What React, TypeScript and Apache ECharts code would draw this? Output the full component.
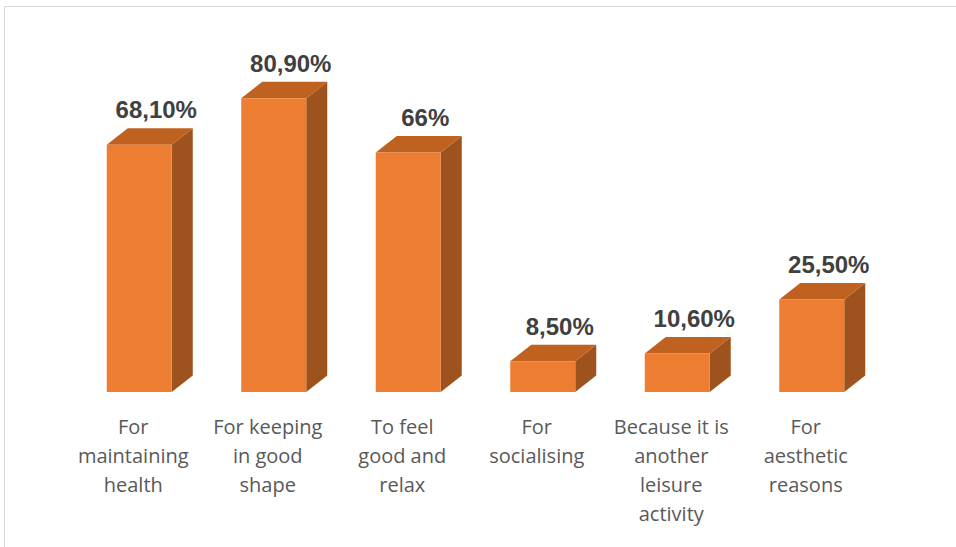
import React, { useEffect, useRef } from "react";
import * as echarts from "echarts";

const categories = [
  "For\nmaintaining\nhealth",
  "For keeping\nin good\nshape",
  "To feel\ngood and\nrelax",
  "For\nsocialising",
  "Because it is\nanother\nleisure\nactivity",
  "For\naesthetic\nreasons",
];
const values = [68.1, 80.9, 66, 8.5, 10.6, 25.5];
const valueLabels = ["68,10%", "80,90%", "66%", "8,50%", "10,60%", "25,50%"];

export default function App() {
  const ref = useRef<HTMLDivElement>(null);
  useEffect(() => {
    if (!ref.current) return;
    const chart = echarts.init(ref.current, null, { renderer: "svg" });
    const FRONT_L = -26.5;
    const FRONT_R = 38.5;
    const DX = 21;
    const DY = -16.5;
    chart.setOption({
      animation: false,
      backgroundColor: "#ffffff",
      grid: { left: 66, right: 83, top: 29, bottom: 155 },
      xAxis: {
        type: "category",
        data: categories,
        axisLine: { show: false },
        axisTick: { show: false },
        axisLabel: {
          interval: 0,
          color: "#595959",
          fontFamily: "Open Sans",
          fontSize: 20,
          lineHeight: 29,
          margin: 20,
        },
      },
      yAxis: {
        type: "value",
        min: 0,
        max: 100,
        show: false,
        splitLine: { show: false },
      },
      graphic: [
        {
          type: "rect",
          shape: { x: 4.5, y: 6.5, width: 1000, height: 600 },
          style: { fill: "none", stroke: "#d9d9d9", lineWidth: 1 },
          silent: true,
          z: -10,
        },
      ],
      series: [
        {
          type: "custom",
          data: values.map((v, i) => [i, v]),
          encode: { x: 0, y: 1 },
          renderItem: (params: any, api: any) => {
            const i = api.value(0);
            const v = api.value(1);
            const top = api.coord([i, v]);
            const base = api.coord([i, 0]);
            const cx = top[0];
            const l = cx + FRONT_L;
            const r = cx + FRONT_R;
            const ty = top[1];
            const by = base[1];
            return {
              type: "group",
              children: [
                {
                  type: "polygon",
                  shape: {
                    points: [
                      [r, ty],
                      [r + DX, ty + DY],
                      [r + DX, by + DY],
                      [r, by],
                    ],
                  },
                  style: { fill: "#9E521D" },
                },
                {
                  type: "polygon",
                  shape: {
                    points: [
                      [l, ty],
                      [l + DX, ty + DY],
                      [r + DX, ty + DY],
                      [r, ty],
                    ],
                  },
                  style: { fill: "#BF611F" },
                },
                {
                  type: "rect",
                  shape: { x: l, y: ty, width: r - l, height: by - ty },
                  style: { fill: "#ED7D31" },
                },
                {
                  type: "text",
                  x: (l + r) / 2 + 17,
                  y: ty - 35,
                  style: {
                    text: valueLabels[i],
                    fill: "#404040",
                    font: "bold 24px 'Liberation Sans'",
                    align: "center",
                    verticalAlign: "middle",
                  },
                },
              ],
            };
          },
        },
      ],
    });
    return () => chart.dispose();
  }, []);
  return (
    <div
      ref={ref}
      style={{ position: "fixed", left: 0, top: 0, width: 956, height: 547 }}
    />
  );
}
